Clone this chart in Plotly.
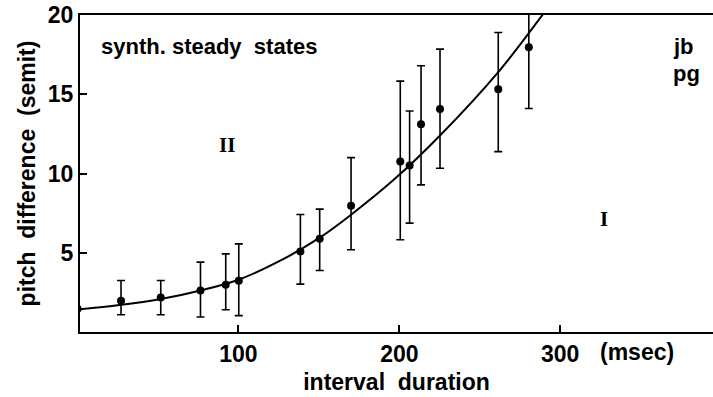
import plotly.graph_objects as go

# data
durations = [0, 27, 51.7, 76.4, 92.1, 100.2, 138.5, 150.5, 170, 200.6, 206.4, 213.5, 225.3, 261.5, 280.5]
pitch_diff = [1.47, 1.97, 2.18, 2.62, 2.98, 3.23, 5.08, 5.88, 7.96, 10.75, 10.5, 13.1, 14.07, 15.31, 17.96]
err_top = [None, 3.25, 3.25, 4.41, 4.93, 5.56, 7.41, 7.75, 11.0, 15.83, 13.94, 16.8, 17.85, 18.9, 21.0]
err_bottom = [None, 1.09, 1.09, 0.95, 1.4, 1.03, 3.02, 3.88, 5.19, 5.82, 6.87, 9.28, 10.33, 11.38, 14.1]

curve_x = [0, 26, 51.7, 76.4, 100, 126, 150.5, 170, 196.5, 225.3, 261.5, 289, 295]
curve_y = [1.42, 1.7, 2.08, 2.62, 3.3, 4.5, 5.95, 7.4, 9.6, 12.4, 16.4, 20.0, 20.8]

x_ticks = [100, 200, 300]
x_ticklabels = ["100", "200", "300"]
y_ticks = [5, 10, 15, 20]
y_ticklabels = ["5", "10", "15", "20"]

plus = [(t - v) if t is not None else 0 for t, v in zip(err_top, pitch_diff)]
minus = [(v - b) if b is not None else 0 for b, v in zip(err_bottom, pitch_diff)]

FONT = "Liberation Sans"

fig = go.Figure()
fig.add_trace(go.Scatter(
    x=curve_x, y=curve_y, mode="lines", line=dict(color="black", width=2, shape="spline", smoothing=1.0),
    hoverinfo="skip", showlegend=False))
fig.add_trace(go.Scatter(
    x=durations, y=pitch_diff, mode="markers",
    marker=dict(color="black", size=8),
    error_y=dict(type="data", symmetric=False, array=plus, arrayminus=minus,
                 color="black", thickness=1.6, width=4),
    showlegend=False))

fig.update_layout(
    width=713, height=397,
    margin=dict(l=80, r=0, t=15, b=65),
    paper_bgcolor="white", plot_bgcolor="white",
    font=dict(family=FONT, color="black", size=22),
    xaxis=dict(range=[1.5, 395], showgrid=False, zeroline=False,
               showline=True, linecolor="black", linewidth=2, mirror=True,
               ticks="inside", ticklen=7, tickwidth=1.5, tickcolor="black",
               tickvals=x_ticks, ticktext=[f"<b>{t}</b>" for t in x_ticklabels],
               tickfont=dict(size=23, family=FONT),
               title=dict(text="<b>interval  duration</b>", font=dict(size=23, family=FONT), standoff=8)),
    yaxis=dict(range=[0, 20], showgrid=False, zeroline=False,
               showline=True, linecolor="black", linewidth=2,
               ticks="inside", ticklen=7, tickwidth=1.5, tickcolor="black",
               tickvals=y_ticks, ticktext=[f"<b>{t}</b>" for t in y_ticklabels],
               tickfont=dict(size=23, family=FONT),
               title=dict(text="<b>pitch  difference  (semit)</b>", font=dict(size=23, family=FONT), standoff=6)),
)

fig.add_annotation(x=348, y=0, yref="y", xref="x", text="<b>(msec)</b>", showarrow=False,
                   yanchor="top", yshift=-5, font=dict(size=23, family=FONT))
fig.add_annotation(x=13, y=18.0, text="<b>synth. steady  states</b>", showarrow=False,
                   xanchor="left", yanchor="middle", font=dict(size=22, family=FONT))
fig.add_annotation(x=369, y=18.0, text="<b>jb</b>", showarrow=False,
                   xanchor="left", yanchor="middle", font=dict(size=22, family=FONT))
fig.add_annotation(x=369, y=16.3, text="<b>pg</b>", showarrow=False,
                   xanchor="left", yanchor="middle", font=dict(size=22, family=FONT))
fig.add_annotation(x=93, y=11.8, text="<b>II</b>", showarrow=False,
                   font=dict(size=21, family="Liberation Serif"))
fig.add_annotation(x=327, y=7.1, text="<b>I</b>", showarrow=False,
                   font=dict(size=21, family="Liberation Serif"))

fig.write_html("out.html")
